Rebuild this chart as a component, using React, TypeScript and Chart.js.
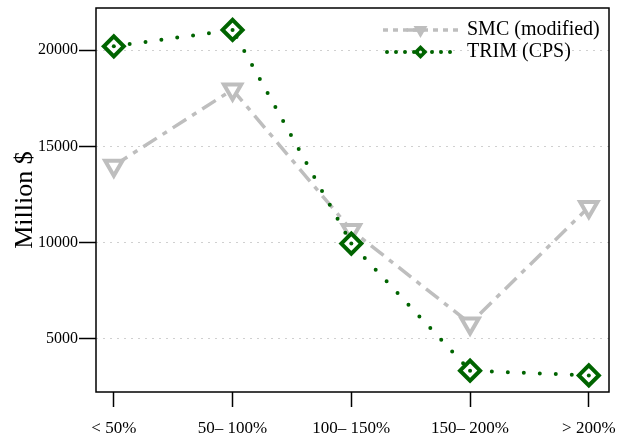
import React, { useEffect, useRef } from "react";
import { Chart, registerables } from "chart.js";

Chart.register(...registerables);

const categories = ["< 50%", "50\u2013 100%", "100\u2013 150%", "150\u2013 200%", "> 200%"];
const smcValues = [14000, 17950, 10650, 5800, 11850];
const trimValues = [20200, 21050, 9950, 3350, 3100];
const yTicks = [5000, 10000, 15000, 20000];
const seriesNames = ["SMC (modified)", "TRIM (CPS)"];

const GRAY = "#bebebe";
const GREEN = "#006400";
const FONT = "'Liberation Serif', 'Times New Roman', serif";
const GRAY_DASH = [16, 7, 5, 7];
const GREEN_DASH = [0, 16];

function drawTriangleDown(ctx: CanvasRenderingContext2D, x: number, y: number, r: number) {
  ctx.beginPath();
  ctx.moveTo(x, y + r);
  ctx.lineTo(x - r * 0.866, y - r * 0.5);
  ctx.lineTo(x + r * 0.866, y - r * 0.5);
  ctx.closePath();
}

const framePlugin = {
  id: "frameLegend",
  afterDraw(chart: any) {
    const { ctx, chartArea } = chart;
    ctx.save();
    ctx.strokeStyle = "#000";
    ctx.lineWidth = 1.5;
    ctx.setLineDash([]);
    ctx.strokeRect(chartArea.left, chartArea.top, chartArea.right - chartArea.left, chartArea.bottom - chartArea.top);

    // legend
    const lx0 = chartArea.right - 226;
    const lx1 = lx0 + 75;
    const mx = (lx0 + lx1) / 2;
    const y1 = chartArea.top + 22;
    const y2 = chartArea.top + 44;
    // row 1
    ctx.strokeStyle = GRAY;
    ctx.lineWidth = 3.5;
    ctx.setLineDash([5, 5]);
    ctx.lineDashOffset = 0;
    ctx.beginPath();
    ctx.moveTo(lx0, y1);
    ctx.lineTo(lx1, y1);
    ctx.stroke();
    ctx.setLineDash([]);
    ctx.beginPath();
    ctx.moveTo(mx - 14, y1);
    ctx.lineTo(mx + 4, y1);
    ctx.stroke();
    drawTriangleDown(ctx, mx, y1, 8);
    ctx.fillStyle = GRAY;
    ctx.fill();
    // row 2
    ctx.strokeStyle = GREEN;
    ctx.lineWidth = 4;
    ctx.lineCap = "round";
    ctx.setLineDash([0, 9]);
    ctx.lineDashOffset = 0;
    ctx.beginPath();
    ctx.moveTo(lx0 + 4, y2);
    ctx.lineTo(lx1, y2);
    ctx.stroke();
    ctx.setLineDash([]);
    ctx.beginPath();
    ctx.moveTo(mx, y2 - 7);
    ctx.lineTo(mx + 7, y2);
    ctx.lineTo(mx, y2 + 7);
    ctx.lineTo(mx - 7, y2);
    ctx.closePath();
    ctx.fillStyle = GREEN;
    ctx.fill();
    ctx.beginPath();
    ctx.arc(mx, y2, 1.5, 0, Math.PI * 2);
    ctx.fillStyle = "#fff";
    ctx.fill();

    ctx.fillStyle = "#000";
    ctx.font = `20px ${FONT}`;
    ctx.textBaseline = "middle";
    ctx.textAlign = "left";
    ctx.fillText(seriesNames[0], lx1 + 9, y1);
    ctx.fillText(seriesNames[1], lx1 + 9, y2);
    ctx.restore();
  },
};

export default function App() {
  const ref = useRef<HTMLCanvasElement>(null);
  useEffect(() => {
    if (!ref.current) return;
    const xs = categories.map((_, i) => i);
    const chart = new Chart(ref.current, {
      type: "line",
      data: {
        datasets: [
          {
            label: seriesNames[0],
            data: xs.map((x, i) => ({ x, y: smcValues[i] })),
            borderColor: GRAY,
            borderWidth: 3.5,
            borderDash: GRAY_DASH,
            tension: 0,
            pointStyle: "triangle",
            rotation: 180,
            pointRadius: 10,
            pointBorderWidth: 4,
            pointBorderColor: GRAY,
            pointBackgroundColor: "#fff",
            clip: false,
            order: 3,
          } as any,
          {
            label: seriesNames[1],
            data: xs.map((x, i) => ({ x, y: trimValues[i] })),
            borderColor: GREEN,
            borderWidth: 4,
            borderDash: GREEN_DASH,
            borderCapStyle: "round",
            tension: 0,
            pointStyle: "rectRot",
            pointRadius: 10,
            pointBorderWidth: 4,
            pointBorderColor: GREEN,
            pointBackgroundColor: "#fff",
            clip: false,
            order: 2,
          } as any,
          {
            label: "centre",
            data: xs.map((x, i) => ({ x, y: trimValues[i] })),
            showLine: false,
            pointStyle: "circle",
            pointRadius: 2,
            pointBorderWidth: 0,
            pointBackgroundColor: GREEN,
            clip: false,
            order: 1,
          } as any,
        ],
      },
      options: {
        animation: false,
        responsive: false,
        layout: { autoPadding: false, padding: { left: 0, right: 18, top: 8, bottom: 0 } },
        plugins: { legend: { display: false }, tooltip: { enabled: false } },
        scales: {
          x: {
            type: "linear",
            min: -0.15,
            max: 4.17,
            afterBuildTicks: (scale: any) => {
              scale.ticks = xs.map((v) => ({ value: v }));
            },
            afterFit: (scale: any) => {
              scale.height = 47;
              scale.paddingLeft = 0;
              scale.paddingRight = 0;
            },
            ticks: {
              callback: (v: any) => categories[v as number] ?? "",
              color: "#000",
              font: { family: FONT, size: 17 },
              padding: 11,
              maxRotation: 0,
              autoSkip: false,
            },
            grid: {
              drawOnChartArea: false,
              drawTicks: true,
              tickLength: 15,
              tickColor: "#000",
              tickWidth: 1.5,
            },
            border: { display: false },
          },
          y: {
            type: "linear",
            min: 2240,
            max: 22190,
            afterBuildTicks: (scale: any) => {
              scale.ticks = yTicks.map((v) => ({ value: v }));
            },
            afterFit: (scale: any) => {
              scale.width = 96;
              scale.paddingTop = 0;
              scale.paddingBottom = 0;
            },
            title: {
              display: true,
              text: "Million $",
              color: "#000",
              font: { family: FONT, size: 26 },
              padding: { top: 10, bottom: 0 },
            },
            ticks: {
              color: "#000",
              font: { family: FONT, size: 16 },
              padding: 1,
              callback: (v: any) => String(v),
            },
            grid: {
              color: "#d0d0d0",
              lineWidth: 1,
              drawTicks: true,
              tickLength: 17,
              tickColor: "#000",
              tickWidth: 1.5,
              tickBorderDash: [],
            } as any,
            border: { display: false, dash: [2, 5] },
          },
        },
      },
      plugins: [framePlugin],
    });
    return () => chart.destroy();
  }, []);
  return (
    <div style={{ position: "fixed", left: 0, top: 0, width: 627, height: 439, background: "#fff" }}>
      <canvas ref={ref} width={627} height={439} />
    </div>
  );
}
